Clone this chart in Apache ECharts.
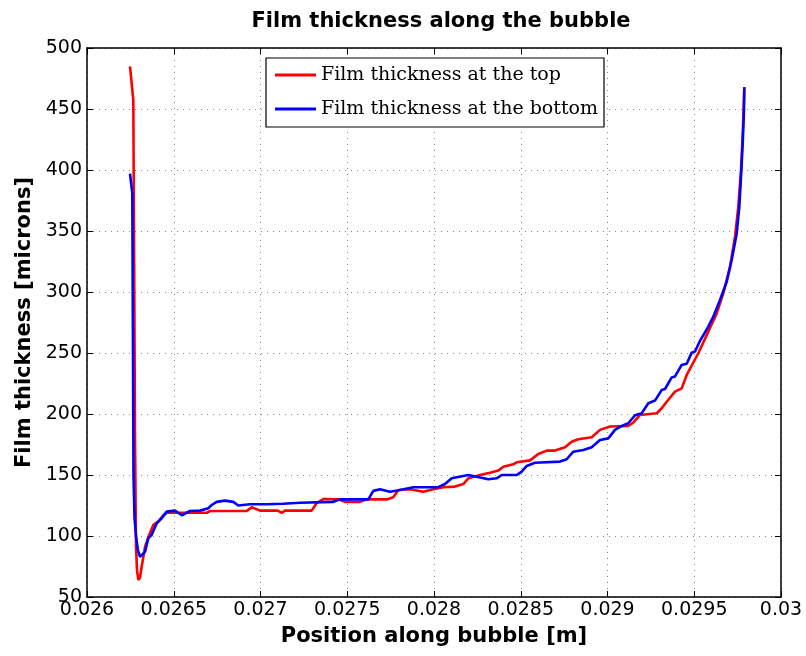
<!DOCTYPE html>
<html>
<head>
<meta charset="utf-8">
<script src="https://cdn.jsdelivr.net/npm/echarts@6/dist/echarts.min.js"></script>
<style>
html,body{margin:0;padding:0;background:#fff;}
#chart{width:806px;height:656px;}
</style>
</head>
<body>
<div id="chart"></div>
<script>
// Film thickness at the top (red)
const topX = [0.0262478,0.0262669,0.0262726,0.0262767,0.0262824,0.0262882,0.0262957,0.0263055,0.0263153,0.0263343,
  0.0263533,0.0263821,0.0264109,0.0264398,0.0264594,0.0266899,0.0267089,0.0269205,0.0269493,0.0269971,
  0.0271009,0.0271222,0.0271412,0.0272951,0.0273239,0.027362,0.0274484,0.027487,0.0275735,0.0276121,
  0.0277274,0.0277654,0.0277942,0.0278617,0.0279383,0.027996,0.0280536,0.028121,0.0281689,0.0281977,
  0.0282651,0.0283228,0.0283706,0.0283994,0.0284571,0.0284767,0.0285533,0.0286012,0.0286496,0.0286974,
  0.028755,0.0287937,0.0288317,0.0289089,0.0289568,0.0290144,0.0291199,0.0291487,0.0291873,0.0292836,
  0.0293124,0.0293412,0.0293891,0.0294277,0.0294565,0.0295234,0.029581,0.0296294,0.0296674,0.0297061,
  0.0297349,0.0297539,0.0297695,0.029781,0.0297885];
const topY = [485,457,300,180,92,72,64,66,75,91,
  99,109,112,117,119,119,120.5,120.5,123.5,120.8,
  120.8,119,120.8,120.8,127,130.3,130,128,128,130,
  130,131.7,137.7,138.3,136.3,138.3,140,140.5,142.6,147.3,
  150,151.9,153.6,156.8,158.8,160.4,162,167.2,170,170,
  172.8,177.3,179.3,181,187,189.7,190.2,193,199.2,200.6,
  204.7,210,218.3,221,232,249.8,267.5,282.5,298.9,320.7,
  345.3,369.8,400,435,468];

// Film thickness at the bottom (blue)
const bottomX = [0.0262478,0.0262611,0.0262651,0.026268,0.0262738,0.0262824,0.0262939,0.0263055,0.026317,0.0263343,
  0.0263533,0.0263729,0.0264017,0.0264305,0.0264594,0.0265072,0.0265458,0.0265937,0.0266513,0.0266991,
  0.0267187,0.0267475,0.0267954,0.0268432,0.026872,0.0269395,0.0270357,0.0271297,0.0272277,0.0274196,
  0.0274582,0.0276213,0.0276502,0.0276888,0.0277464,0.027804,0.0278807,0.0280248,0.0280634,0.028102,
  0.0281689,0.0281977,0.0282461,0.028313,0.0283614,0.0283902,0.0284767,0.0285055,0.0285343,0.0285821,
  0.0287262,0.0287648,0.0288029,0.0288605,0.0289089,0.0289568,0.0290046,0.0290432,0.0290818,0.0291199,
  0.0291585,0.0291971,0.0292352,0.0292738,0.0293124,0.0293314,0.02937,0.0293891,0.0294277,0.0294565,
  0.0294853,0.0295043,0.0295331,0.029581,
  0.0296098,0.0296484,0.029687,0.0297158,0.0297447,0.0297597,0.0297695,0.0297793,0.0297867,0.0297885];
const bottomY = [397,381,250,150,115,100,88,83,84,87,
  98,101,110.4,114.5,120,120.8,117,120.5,120.8,122.7,
  125.4,128,129,128,125,126,126,126.4,127.3,128,
  130,130,137,138.3,136.3,137.7,140,140,142.6,147.3,
  149.2,150,148.6,146.5,147.3,150,150,152.7,157.4,160,
  161,162.9,169.1,170.5,172.8,178.7,180,187,190.2,192.4,
  199,200.6,208.8,211,219.7,220.5,230,230.8,240.2,241.2,
  250.3,251.2,260,271.6,
  279.8,293.4,308.4,326.2,348,369.8,394.5,421.8,449,467.8];

const xTickLabels = ['0.026','0.0265','0.027','0.0275','0.028','0.0285','0.029','0.0295','0.03'];
const yTickLabels = ['50','100','150','200','250','300','350','400','450','500'];

const seriesNames = ['Film thickness at the top','Film thickness at the bottom'];

function pairs(xs, ys){ return xs.map((x,i)=>[x, ys[i]]); }

const chart = echarts.init(document.getElementById('chart'), null, {renderer:'canvas'});
const sans = 'DejaVu Sans, Liberation Sans, Arial, sans-serif';
const X0 = 0.026, XI = 0.0005;
const Y0 = 50, YI = 50;

const baseX = {
  type:'value', min:0.026, max:0.03, interval:0.0005,
  axisLine:{show:true, onZero:false, lineStyle:{color:'#000', width:1.5}},
  axisTick:{show:true, inside:true, length:6, lineStyle:{color:'#000', width:1}},
};
const baseY = {
  type:'value', min:50, max:500, interval:50,
  axisLine:{show:true, onZero:false, lineStyle:{color:'#000', width:1.5}},
  axisTick:{show:true, inside:true, length:6, lineStyle:{color:'#000', width:1}},
};

chart.setOption({
  animation:false,
  backgroundColor:'#fff',
  title:{
    text:'Film thickness along the bubble',
    left:436, top:6, textAlign:'center',
    textStyle:{fontFamily:sans, fontSize:21, fontWeight:'bold', color:'#000'}
  },
  legend:{
    orient:'vertical', left:266, top:58,
    padding:[7,6,8,9], itemGap:14,
    itemWidth:41, itemHeight:3, icon:'rect',
    borderColor:'#000', borderWidth:1.2, backgroundColor:'#fff',
    textStyle:{fontFamily:'DejaVu Serif, Liberation Serif, serif', fontSize:19, color:'#000', lineHeight:20},
    data: seriesNames
  },
  grid:{left:87, top:48, width:694, height:549, containLabel:false},
  xAxis:[
    Object.assign({}, baseX, {
      position:'bottom',
      name:'Position along bubble [m]', nameLocation:'middle', nameGap:29,
      nameTextStyle:{fontFamily:sans, fontSize:21, fontWeight:'bold', color:'#000'},
      axisLabel:{show:true, margin:4, fontFamily:sans, fontSize:19, color:'#000',
        formatter:(v)=>xTickLabels[Math.round((v-X0)/XI)] ?? ''},
      splitLine:{show:true, lineStyle:{color:'#888', width:1, type:[1,5]}}
    }),
    Object.assign({}, baseX, {
      position:'top', axisLabel:{show:false}, splitLine:{show:false}
    })
  ],
  yAxis:[
    Object.assign({}, baseY, {
      position:'left',
      name:'Film thickness [microns]', nameLocation:'middle', nameGap:47,
      nameTextStyle:{fontFamily:sans, fontSize:21, fontWeight:'bold', color:'#000'},
      axisLabel:{show:true, margin:5, fontFamily:sans, fontSize:19, color:'#000',
        formatter:(v)=>yTickLabels[Math.round((v-Y0)/YI)] ?? ''},
      splitLine:{show:true, lineStyle:{color:'#888', width:1, type:[1,5]}}
    }),
    Object.assign({}, baseY, {
      position:'right', axisLabel:{show:false}, splitLine:{show:false}
    })
  ],
  series:[
    {
      name:seriesNames[0], type:'line', xAxisIndex:0, yAxisIndex:0,
      data:pairs(topX, topY), symbol:'none', showSymbol:false,
      lineStyle:{color:'#ff0000', width:2.6}, itemStyle:{color:'#ff0000'}, z:2
    },
    {
      name:seriesNames[1], type:'line', xAxisIndex:0, yAxisIndex:0,
      data:pairs(bottomX, bottomY), symbol:'none', showSymbol:false,
      lineStyle:{color:'#0000ff', width:2.6}, itemStyle:{color:'#0000ff'}, z:3
    }
  ]
});
</script>
</body>
</html>
